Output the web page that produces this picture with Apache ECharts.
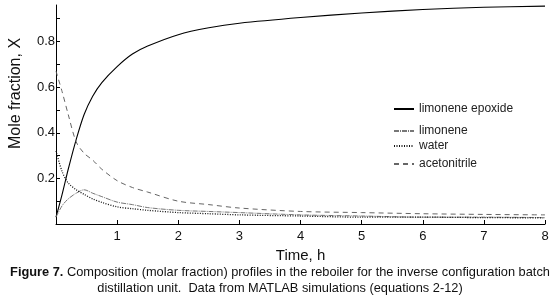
<!DOCTYPE html>
<html lang="en">
<head>
    <meta charset="UTF-8">
    <title>Composition profiles</title>
    <script src="https://cdn.jsdelivr.net/npm/echarts@6.0.0/dist/echarts.min.js"></script>
    <style>
        html, body { margin: 0; padding: 0; background: #fff; }
        #main { width: 560px; height: 301px; }
    </style>
</head>
<body>
    <div id="main"></div>
    <script type="text/javascript">
        // time (h) and mole fractions
        const times = [0, 0.1, 0.2, 0.33, 0.46, 0.6, 0.75, 1, 1.25, 1.5, 2, 2.5, 3, 4, 5, 6, 7, 8];
        const epoxide = [0.03, 0.13, 0.24, 0.37, 0.48, 0.56, 0.62, 0.69, 0.745, 0.78, 0.83, 0.86, 0.88, 0.905, 0.925, 0.94, 0.95, 0.955];
        const limonene = [0.03, 0.08, 0.11, 0.135, 0.15, 0.135, 0.12, 0.096, 0.085, 0.072, 0.06, 0.055, 0.05, 0.04, 0.035, 0.03, 0.03, 0.028];
        const water = [0.32, 0.23, 0.18, 0.15, 0.13, 0.11, 0.095, 0.075, 0.067, 0.06, 0.05, 0.045, 0.04, 0.035, 0.03, 0.03, 0.028, 0.027];
        const acetonitrile = [0.67, 0.58, 0.48, 0.36, 0.31, 0.28, 0.24, 0.19, 0.16, 0.14, 0.10, 0.085, 0.07, 0.055, 0.05, 0.045, 0.042, 0.04];
        const names = ['limonene epoxide', 'limonene', 'water', 'acetonitrile'];
        const yLabels = [0.2, 0.4, 0.6, 0.8];
        const caption = [
            '{b|Figure 7.} Composition (molar fraction) profiles in the reboiler for the inverse configuration batch',
            'distillation unit.  Data from MATLAB simulations (equations 2-12)'
        ];

        function pairs(vals) {
            return times.map((t, i) => [t, vals[i]]);
        }

        var chart = echarts.init(document.getElementById('main'));
        const font = 'Arial, "Liberation Sans", sans-serif';
        const legendTops = [98, 120, 135, 153];
        const capStyle = {
            fontFamily: font,
            fontSize: 12.8,
            fontWeight: 'normal',
            color: '#111',
            rich: {
                b: { fontFamily: font, fontSize: 12.8, fontWeight: 'bold', color: '#111' }
            }
        };

        var option = {
            animation: false,
            backgroundColor: '#fff',
            title: caption.map((c, i) => ({
                text: c,
                left: 'center',
                top: 266 + i * 16,
                padding: 0,
                textStyle: capStyle
            })),
            legend: names.map((n, i) => ({
                data: [n],
                left: 388,
                top: legendTops[i],
                itemWidth: 20,
                itemHeight: 8,
                itemGap: 0,
                itemStyle: { opacity: 0 },
                textStyle: { fontFamily: font, fontSize: 12, color: '#222' }
            })),
            grid: { left: 55, right: 15, top: 5, bottom: 77 },
            xAxis: {
                type: 'value',
                min: 0,
                max: 8,
                interval: 1,
                name: 'Time, h',
                nameLocation: 'middle',
                nameGap: 17,
                nameTextStyle: { fontFamily: font, fontSize: 15, color: '#111' },
                axisLine: { lineStyle: { color: '#000', width: 1 } },
                axisTick: { inside: true, length: 4, lineStyle: { color: '#000' } },
                axisLabel: {
                    fontFamily: font, fontSize: 13, color: '#111', margin: 6,
                    formatter: v => (v === 0 ? '' : String(v))
                },
                splitLine: { show: false }
            },
            yAxis: {
                type: 'value',
                min: 0,
                max: 0.96,
                interval: 0.1,
                name: 'Mole fraction, X',
                nameLocation: 'middle',
                nameGap: 32,
                nameTextStyle: { fontFamily: font, fontSize: 16, color: '#111', padding: [0, 0, 0, 42] },
                axisLine: { show: true, lineStyle: { color: '#000', width: 1 } },
                axisTick: { inside: true, length: 4, lineStyle: { color: '#000' } },
                axisLabel: {
                    fontFamily: font, fontSize: 13, color: '#111', margin: 1,
                    showMaxLabel: false,
                    formatter: v => {
                        const r = Math.round(v * 10) / 10;
                        return yLabels.includes(r) ? r.toFixed(1) : '';
                    }
                },
                splitLine: { show: false }
            },
            series: [
                {
                    name: names[0], type: 'line', data: pairs(epoxide), smooth: 0.3,
                    symbol: 'none', lineStyle: { color: '#000', width: 1.1, type: 'solid' },
                    itemStyle: { color: '#000' }
                },
                {
                    name: names[1], type: 'line', data: pairs(limonene), smooth: 0.3,
                    symbol: 'none', lineStyle: { color: '#777', width: 1, type: [5, 1, 1, 1] },
                    itemStyle: { color: '#777' }
                },
                {
                    name: names[2], type: 'line', data: pairs(water), smooth: 0.3,
                    symbol: 'none', lineStyle: { color: '#111', width: 1.3, type: [1, 1.5] },
                    itemStyle: { color: '#111' }
                },
                {
                    name: names[3], type: 'line', data: pairs(acetonitrile), smooth: 0.3,
                    symbol: 'none', lineStyle: { color: '#666', width: 1, type: [5, 4] },
                    itemStyle: { color: '#666' }
                }
            ]
        };
        chart.setOption(option);
    </script>
</body>
</html>
